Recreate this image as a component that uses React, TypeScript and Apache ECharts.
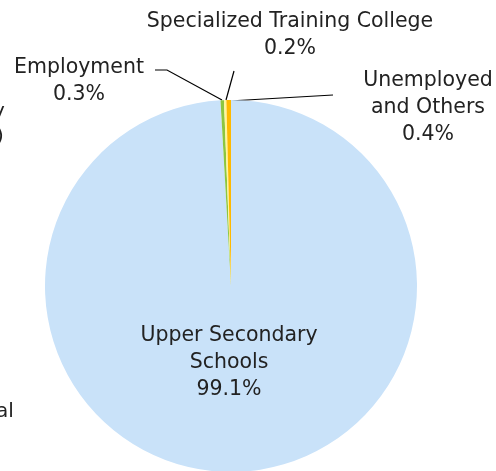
import React, { useEffect, useRef } from "react";
import * as echarts from "echarts";

const categories = ["Upper Secondary Schools", "Employment", "Specialized Training College", "Unemployed and Others"];
const labelNames = ["Upper Secondary\nSchools", "Employment", "Specialized Training College", "Unemployed\nand Others"];
const values = [99.1, 0.3, 0.2, 0.4];
const colors = ["#c9e2f9", "#8dc63f", "#fff799", "#ffb900"];

const FONT = "'DejaVu Sans', sans-serif";

export default function App() {
  const ref = useRef<HTMLDivElement>(null);
  useEffect(() => {
    if (!ref.current) return;
    const chart = echarts.init(ref.current, undefined, { renderer: "svg" });
    const layouts: Record<number, any> = {
      0: { x: 229, y: 361, align: "center", verticalAlign: "middle" },
      1: { x: 79, y: 79, align: "center", verticalAlign: "middle", labelLinePoints: [[155, 70], [167, 70], [222, 100]] },
      2: { x: 290, y: 33, align: "center", verticalAlign: "middle", labelLinePoints: [[234, 71], [234, 71], [226, 100]] },
      3: { x: 428, y: 106, align: "center", verticalAlign: "middle", labelLinePoints: [[333, 95], [333, 95], [229, 101]] },
    };
    chart.setOption({
      animation: false,
      series: [
        {
          type: "pie",
          center: [231, 286],
          radius: [0, 186],
          startAngle: 90,
          clockwise: true,
          avoidLabelOverlap: false,
          data: categories.map((c, i) => ({
            name: c,
            value: values[i],
            itemStyle: { color: colors[i] },
          })),
          label: {
            show: true,
            position: "outside",
            formatter: (p: any) => labelNames[p.dataIndex] + "\n" + p.value.toFixed(1) + "%",
            fontFamily: FONT,
            fontSize: 20.5,
            lineHeight: 27,
            color: "#222",
            align: "center",
          },
          labelLine: {
            show: true,
            lineStyle: { color: "#000", width: 1.2 },
          },
          labelLayout: (params: any) => layouts[params.dataIndex],
          emphasis: { disabled: true },
        },
      ],
      graphic: [
        { type: "text", left: -4, top: 400, style: { text: "al", fontFamily: FONT, fontSize: 20, fill: "#222" } },
        { type: "text", left: -4, top: 125, style: { text: ")", fontFamily: FONT, fontSize: 20, fill: "#222" } },
        { type: "text", left: -7, top: 100, style: { text: "y", fontFamily: FONT, fontSize: 20, fill: "#222" } },
      ],
    });
    return () => chart.dispose();
  }, []);
  return <div ref={ref} style={{ position: "fixed", left: 0, top: 0, width: 496, height: 471 }} />;
}
